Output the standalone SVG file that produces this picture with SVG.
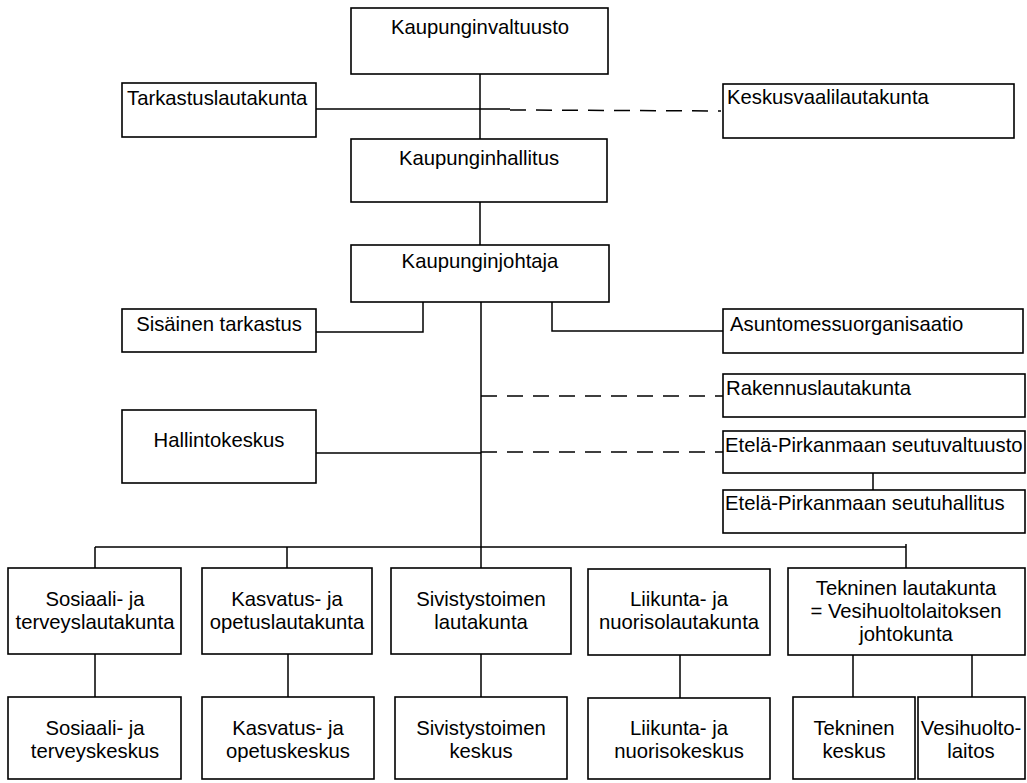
<svg xmlns="http://www.w3.org/2000/svg" width="1027" height="783" viewBox="0 0 1027 783">
<style>
rect{fill:#fff;stroke:#000;stroke-width:1.6}
text{font-family:"Liberation Sans",Arial,sans-serif;font-size:20.3px;fill:#000}
.c{text-anchor:middle}
.ln{fill:none;stroke:#000;stroke-width:1.5}
.d{fill:none;stroke:#000;stroke-width:1.5;stroke-dasharray:16 10}
</style>
<rect x="0" y="0" width="1027" height="783" style="fill:#fff;stroke:none"/>
<g id="connectors">
<path class="ln" d="M480 74V139M316 109H510M480 202V245M481 302V568M423 302V332H316M552 302V331H723M316 453H481M873 473V490M95 547H906V568M906 547V544M95 547V568M287 547V568M95 654V697M288 654V697M481 654V697M680 655V698M853 655V697M972 655V697"/>
<path class="d" d="M510 110L721 111M481 396H723M481 452H723"/>
</g>
<g id="kaupunginvaltuusto"><rect x="351" y="8" width="257" height="66"/><text class="c" x="480" y="34">Kaupunginvaltuusto</text></g>
<g id="tarkastuslautakunta"><rect x="122" y="83" width="194" height="54"/><text x="127" y="105">Tarkastuslautakunta</text></g>
<g id="keskusvaalilautakunta"><rect x="723" y="84" width="291" height="54"/><text x="727" y="104">Keskusvaalilautakunta</text></g>
<g id="kaupunginhallitus"><rect x="351" y="139" width="256" height="63"/><text class="c" x="479" y="165">Kaupunginhallitus</text></g>
<g id="kaupunginjohtaja"><rect x="351" y="245" width="258" height="57"/><text class="c" x="480" y="268">Kaupunginjohtaja</text></g>
<g id="sisainen-tarkastus"><rect x="122" y="309" width="194" height="43"/><text class="c" x="219" y="331">Sisäinen tarkastus</text></g>
<g id="asuntomessuorganisaatio"><rect x="723" y="309" width="300" height="44"/><text x="730" y="331">Asuntomessuorganisaatio</text></g>
<g id="rakennuslautakunta"><rect x="723" y="374" width="302" height="43"/><text x="726" y="395">Rakennuslautakunta</text></g>
<g id="hallintokeskus"><rect x="122" y="410" width="194" height="73"/><text class="c" x="219" y="447">Hallintokeskus</text></g>
<g id="seutuvaltuusto"><rect x="723" y="431" width="302" height="42"/><text x="725" y="452">Etelä-Pirkanmaan seutuvaltuusto</text></g>
<g id="seutuhallitus"><rect x="723" y="490" width="302" height="43"/><text x="725" y="510">Etelä-Pirkanmaan seutuhallitus</text></g>
<g id="sosiaali-lautakunta"><rect x="8" y="568" width="173" height="86"/><text class="c" x="95" y="606">Sosiaali- ja</text><text class="c" x="95" y="629">terveyslautakunta</text></g>
<g id="kasvatus-lautakunta"><rect x="202" y="568" width="170" height="86"/><text class="c" x="287" y="606">Kasvatus- ja</text><text class="c" x="287" y="629">opetuslautakunta</text></g>
<g id="sivistystoimen-lautakunta"><rect x="391" y="568" width="180" height="86"/><text class="c" x="481" y="606">Sivistystoimen</text><text class="c" x="481" y="629">lautakunta</text></g>
<g id="liikunta-lautakunta"><rect x="588" y="569" width="182" height="86"/><text class="c" x="679" y="606">Liikunta- ja</text><text class="c" x="679" y="629">nuorisolautakunta</text></g>
<g id="tekninen-lautakunta"><rect x="788" y="568" width="237" height="87"/><text class="c" x="906" y="595">Tekninen lautakunta</text><text class="c" x="906" y="618">= Vesihuoltolaitoksen</text><text class="c" x="906" y="641">johtokunta</text></g>
<g id="sosiaali-keskus"><rect x="8" y="697" width="173" height="82"/><text class="c" x="95" y="735">Sosiaali- ja</text><text class="c" x="95" y="758">terveyskeskus</text></g>
<g id="kasvatus-keskus"><rect x="202" y="697" width="172" height="82"/><text class="c" x="288" y="735">Kasvatus- ja</text><text class="c" x="288" y="758">opetuskeskus</text></g>
<g id="sivistystoimen-keskus"><rect x="395" y="697" width="172" height="82"/><text class="c" x="481" y="735">Sivistystoimen</text><text class="c" x="481" y="758">keskus</text></g>
<g id="liikunta-keskus"><rect x="588" y="698" width="182" height="81"/><text class="c" x="679" y="735">Liikunta- ja</text><text class="c" x="679" y="758">nuorisokeskus</text></g>
<g id="tekninen-keskus"><rect x="793" y="697" width="122" height="82"/><text class="c" x="854" y="735">Tekninen</text><text class="c" x="854" y="758">keskus</text></g>
<g id="vesihuoltolaitos"><rect x="918" y="697" width="107" height="82"/><text class="c" x="971" y="735">Vesihuolto-</text><text class="c" x="971" y="758">laitos</text></g>
</svg>
